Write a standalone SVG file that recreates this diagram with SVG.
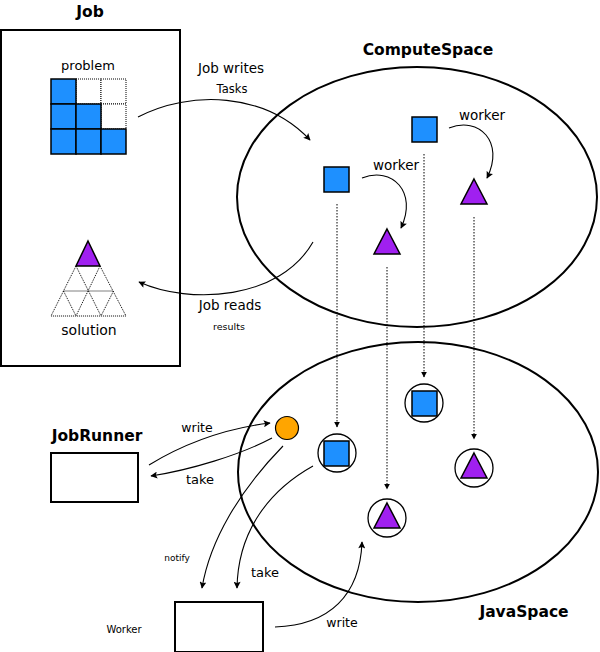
<svg xmlns="http://www.w3.org/2000/svg" width="600" height="652" viewBox="0 0 600 652">
<defs>
<marker id="ah" viewBox="0 0 10 10" refX="9" refY="5" markerWidth="8" markerHeight="7" markerUnits="userSpaceOnUse" orient="auto">
<path d="M0,0 L10,5 L0,10 L2,5 z" fill="#000"/>
</marker>
<marker id="ahs" viewBox="0 0 10 10" refX="9" refY="5" markerWidth="6" markerHeight="6" markerUnits="userSpaceOnUse" orient="auto">
<path d="M0,0 L10,5 L0,10 z" fill="#000"/>
</marker>
</defs>
<style>
text{font-family:"DejaVu Sans","Liberation Sans",sans-serif;fill:#000}
.title{font-weight:bold;font-size:15.5px;text-anchor:middle}
.lbl{font-size:13.5px;text-anchor:middle}
.box{fill:#fff;stroke:#000;stroke-width:2}
.space{fill:none;stroke:#000;stroke-width:2}
.blue{fill:#1e90ff;stroke:#000;stroke-width:1.5}
.dotcell{fill:#fff;stroke:#000;stroke-width:1;stroke-dasharray:1,1}
.tri{fill:#a020f0;stroke:#000;stroke-width:1.5}
.ring{fill:#fff;stroke:#000;stroke-width:1.3}
.conn{fill:none;stroke:#000;stroke-width:1.1}
.drop{fill:none;stroke:#000;stroke-width:1;stroke-dasharray:1.5,1.5}
.dtri{fill:none;stroke:#000;stroke-width:1;stroke-dasharray:1,1}
</style>

<g id="job">
<text class="title" x="90" y="17">Job</text>
<rect class="box" x="1" y="30" width="179" height="336"/>
<text x="88" y="70" style="font-size:13px;text-anchor:middle">problem</text>
<g id="problem-grid">
<rect class="dotcell" x="76" y="79" width="25" height="25"/>
<rect class="dotcell" x="101" y="79" width="25" height="25"/>
<rect class="dotcell" x="101" y="104" width="25" height="25"/>
<rect class="blue" x="51" y="79" width="25" height="25"/>
<rect class="blue" x="51" y="104" width="25" height="25"/>
<rect class="blue" x="76" y="104" width="25" height="25"/>
<rect class="blue" x="51" y="129" width="25" height="25"/>
<rect class="blue" x="76" y="129" width="25" height="25"/>
<rect class="blue" x="101" y="129" width="25" height="25"/>
</g>
<g id="solution-tri">
<path class="dtri" d="M76,266 L51,316 L126,316 L100,266 M63.5,291 L113.5,291 M76,266 L101,316 M100,266 L76,316 M63.5,291 L76,316 M113.5,291 L101,316"/>
<path class="tri" d="M88,241 L100,266 L76,266 z"/>
</g>
<text x="89" y="335" style="font-size:14px;text-anchor:middle">solution</text>
</g>

<g id="computespace">
<text class="title" x="428" y="55">ComputeSpace</text>
<ellipse class="space" cx="417" cy="197" rx="180" ry="130"/>
<rect class="blue" x="324" y="167" width="25" height="25"/>
<rect class="blue" x="412" y="117" width="25" height="25"/>
<path class="tri" d="M387,229 L400,254 L374,254 z"/>
<path class="tri" d="M474,179 L487,204 L461,204 z"/>
<text class="lbl" x="396" y="170">worker</text>
<text class="lbl" x="482" y="120">worker</text>
</g>

<g id="javaspace">
<ellipse class="space" cx="418" cy="472" rx="180" ry="130"/>
<text class="title" x="524" y="617">JavaSpace</text>
<circle cx="287" cy="428" r="11.5" fill="#ffa500" stroke="#000" stroke-width="1.2"/>
<circle class="ring" cx="424" cy="403" r="19"/>
<rect class="blue" x="412" y="391" width="25" height="25"/>
<circle class="ring" cx="337" cy="453" r="19"/>
<rect class="blue" x="324" y="441" width="25" height="25"/>
<circle class="ring" cx="387" cy="518" r="19"/>
<path class="tri" d="M387,503 L400,528 L374,528 z"/>
<circle class="ring" cx="474" cy="468" r="19"/>
<path class="tri" d="M474,453 L487,478 L461,478 z"/>
</g>

<g id="jobrunner">
<text class="title" x="97" y="441">JobRunner</text>
<rect class="box" x="51" y="453" width="87" height="49"/>
</g>

<g id="worker">
<rect class="box" x="175" y="602" width="88" height="50"/>
<text x="124" y="633" style="font-size:10px;text-anchor:middle">Worker</text>
</g>

<g id="connectors">
<path class="conn" marker-end="url(#ah)" d="M138,117 C190,90 265,92 310,140"/>
<path class="conn" marker-end="url(#ah)" d="M313,242 C280,300 190,305 139,282"/>
<path class="conn" marker-end="url(#ah)" d="M362,178 C392,166 418,192 401,228"/>
<path class="conn" marker-end="url(#ah)" d="M449,128 C479,116 505,142 487,178"/>
<path class="drop" marker-end="url(#ahs)" d="M337,204 L337,427"/>
<path class="drop" marker-end="url(#ahs)" d="M387,267 L387,489"/>
<path class="drop" marker-end="url(#ahs)" d="M424,154 L424,377"/>
<path class="drop" marker-end="url(#ahs)" d="M474,217 L474,439"/>
<path class="conn" marker-end="url(#ah)" d="M149,465 C190,440 230,428 270,423"/>
<path class="conn" marker-end="url(#ah)" d="M272,438 C240,455 190,470 151,476"/>
<path class="conn" marker-end="url(#ah)" d="M283,446 C240,490 210,540 202,588"/>
<path class="conn" marker-end="url(#ah)" d="M313,466 C270,490 238,530 237,588"/>
<path class="conn" marker-end="url(#ah)" d="M275,627 C330,625 360,595 362,542"/>
</g>

<g id="labels">
<text class="lbl" x="231" y="73">Job writes</text>
<text x="232" y="93" style="font-size:11.5px;text-anchor:middle">Tasks</text>
<text class="lbl" x="230" y="310">Job reads</text>
<text x="229" y="330" style="font-size:9.5px;text-anchor:middle">results</text>
<text x="197" y="432" style="font-size:12.5px;text-anchor:middle">write</text>
<text x="200" y="484" style="font-size:13px;text-anchor:middle">take</text>
<text x="177" y="561" style="font-size:9px;text-anchor:middle">notify</text>
<text x="265" y="577" style="font-size:13px;text-anchor:middle">take</text>
<text x="342" y="627" style="font-size:12.5px;text-anchor:middle">write</text>
</g>
</svg>
